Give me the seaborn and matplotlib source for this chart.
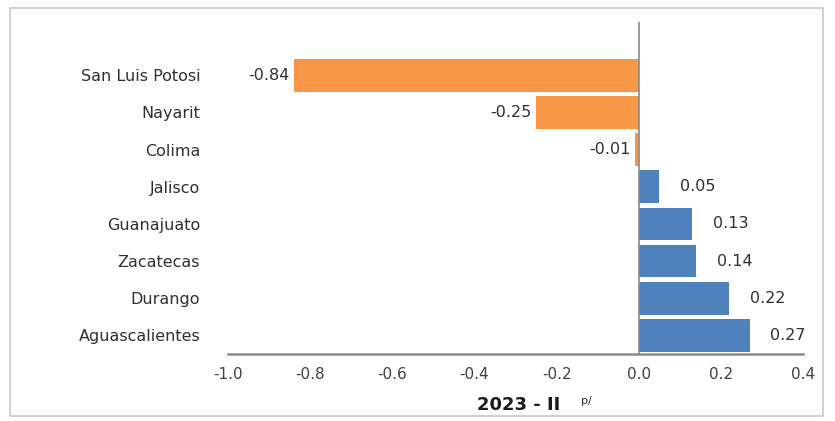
import matplotlib
matplotlib.use("Agg")
import matplotlib.pyplot as plt
import seaborn as sns
import pandas as pd
from matplotlib.patches import Rectangle

states = ["San Luis Potosi", "Nayarit", "Colima", "Jalisco", "Guanajuato",
          "Zacatecas", "Durango", "Aguascalientes"]
values = [-0.84, -0.25, -0.01, 0.05, 0.13, 0.14, 0.22, 0.27]
value_labels = ["-0.84", "-0.25", "-0.01", "0.05", "0.13", "0.14", "0.22", "0.27"]
xticks = [-1.0, -0.8, -0.6, -0.4, -0.2, 0.0, 0.2, 0.4]

ORANGE = "#F79646"
BLUE = "#4F81BD"

sns.set_theme(style="white")
plt.rcParams["font.family"] = ["DejaVu Sans"]

df = pd.DataFrame({"state": states, "value": values})
df["sign"] = ["neg" if v < 0 else "pos" for v in values]

fig = plt.figure(figsize=(8.35, 4.21), dpi=100)
ax = fig.add_axes([0.273, 0.1591, 0.6887, 0.7886])

sns.barplot(data=df, x="value", y="state", hue="sign", order=states,
            palette={"neg": ORANGE, "pos": BLUE}, dodge=False, width=0.88,
            legend=False, ax=ax, saturation=1, linewidth=0)

ax.set_xlim(-1.0, 0.4)
ax.set_ylim(7.5, -1.43)
ax.set_xticks(xticks)
ax.set_xticklabels([f"{t:.1f}" for t in xticks], color="#404040", fontsize=11)
ax.tick_params(axis="x", direction="inout", length=6, width=1, color="#888888", pad=6)
ax.tick_params(axis="y", length=0, pad=20, labelsize=11.5, labelcolor="#303030")

for s in ["top", "right", "left"]:
    ax.spines[s].set_visible(False)
ax.spines["bottom"].set_color("#8a8a8a")
ax.spines["bottom"].set_linewidth(1.8)
ax.axvline(0, color="#8a8a8a", lw=1.2, zorder=3)

ax.set_xlabel("")
ax.set_ylabel("")

for i, (v, lab) in enumerate(zip(values, value_labels)):
    if v < 0:
        ax.annotate(lab, (v, i), xytext=(-3, 0), textcoords="offset points",
                    ha="right", va="center", fontsize=11.5, color="#303030")
    else:
        ax.annotate(lab, (v, i), xytext=(15, 0), textcoords="offset points",
                    ha="left", va="center", fontsize=11.5, color="#303030")

ax.text(0.505, -0.155, "2023 - II", transform=ax.transAxes, ha="center", va="center",
        fontsize=13, fontweight="bold", color="#1a1a1a")
ax.text(0.623, -0.143, "p/", transform=ax.transAxes, ha="center", va="center",
        fontsize=8, color="#303030")

fig.patches.append(Rectangle((10 / 835, 1 - 416 / 421), 813 / 835, 408 / 421,
                             transform=fig.transFigure, fill=False,
                             edgecolor="#c8c8c8", lw=1.2))

fig.savefig("out.png", dpi=100)
